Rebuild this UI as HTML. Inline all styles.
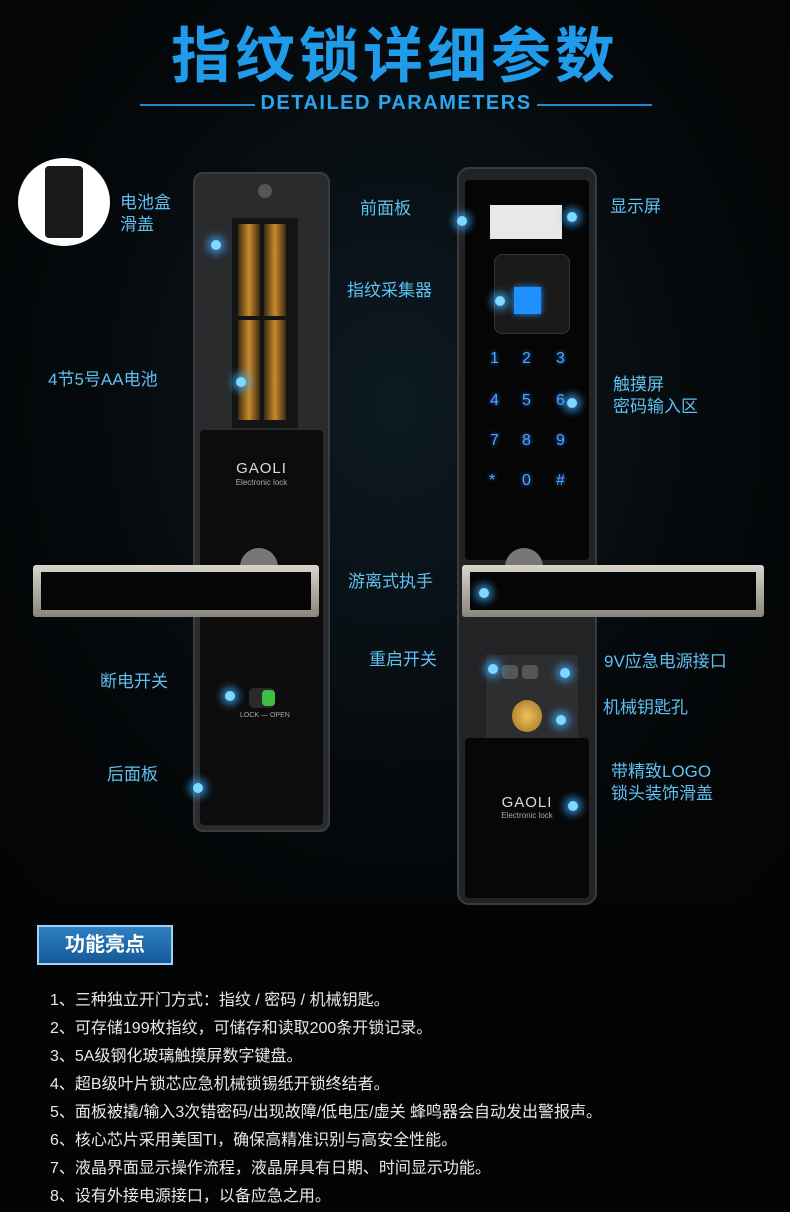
<!DOCTYPE html>
<html><head><meta charset="utf-8"><style>
*{margin:0;padding:0;box-sizing:border-box}
body{width:790px;height:1212px;background:#030405;position:relative;overflow:hidden;font-family:"Liberation Sans","Noto Sans CJK SC",sans-serif}
.a{position:absolute}
.lbl{position:absolute;color:#5fc0f0;font-size:17px;line-height:22px;white-space:nowrap}
.dot{position:absolute;width:10px;height:10px;border-radius:50%;background:#7fd8ff;box-shadow:0 0 8px 4px rgba(60,170,255,.7)}
.li{position:absolute;left:50px;color:#e8e8e8;font-size:16px;white-space:nowrap}
.key{position:absolute;color:#4aa8ff;font-size:16px;text-shadow:0 0 5px #2a7fff}
</style></head><body>
<div class="a" style="left:0;top:0;width:790px;height:900px;background:radial-gradient(ellipse at 50% 45%,#0d1a22 0%,#05080a 60%,#030405 100%)"></div>
<div class="a" style="left:0;top:22px;width:790px;text-align:center;color:#1f9bea;font-size:60px;font-weight:bold;letter-spacing:4px;line-height:70px">指纹锁详细参数</div>
<div class="a" style="left:140px;top:104px;width:115px;height:2px;background:#1f8ad0"></div>
<div class="a" style="left:537px;top:104px;width:115px;height:2px;background:#1f8ad0"></div>
<div class="a" style="left:250px;top:92px;width:292px;text-align:center;color:#2aa6ee;font-size:20px;font-weight:bold;letter-spacing:1.5px">DETAILED PARAMETERS</div>

<div class="a" style="left:18px;top:158px;width:92px;height:88px;border-radius:50%;background:#fff"></div>
<div class="a" style="left:45px;top:166px;width:38px;height:72px;border-radius:4px;background:#1a1a1a"></div>

<div class="a" style="left:193px;top:172px;width:137px;height:660px;background:#2a2b2d;border-radius:10px;border:2px solid #3a3b3e"></div>
<div class="a" style="left:232px;top:218px;width:66px;height:210px;background:#151515"></div>
<div class="a" style="left:238px;top:224px;width:22px;height:92px;background:linear-gradient(90deg,#3a2a10,#c88a30,#3a2a10)"></div>
<div class="a" style="left:264px;top:224px;width:22px;height:92px;background:linear-gradient(90deg,#3a2a10,#c88a30,#3a2a10)"></div>
<div class="a" style="left:238px;top:320px;width:22px;height:100px;background:linear-gradient(90deg,#3a2a10,#c88a30,#3a2a10)"></div>
<div class="a" style="left:264px;top:320px;width:22px;height:100px;background:linear-gradient(90deg,#3a2a10,#c88a30,#3a2a10)"></div>
<div class="a" style="left:258px;top:184px;width:14px;height:14px;border-radius:50%;background:#555"></div>
<div class="a" style="left:200px;top:430px;width:123px;height:395px;background:#0c0c0d;border-radius:4px"></div>
<div class="a" style="left:200px;top:460px;width:123px;text-align:center;color:#ddd;font-size:15px;letter-spacing:1px">GAOLI</div>
<div class="a" style="left:200px;top:478px;width:123px;text-align:center;color:#aaa;font-size:8px">Electronic lock</div>
<div class="a" style="left:240px;top:548px;width:38px;height:38px;border-radius:50%;background:#777"></div>
<div class="a" style="left:33px;top:565px;width:286px;height:52px;background:linear-gradient(#d8d4cc,#8a867e);border-radius:3px"></div>
<div class="a" style="left:41px;top:572px;width:270px;height:38px;background:#050505"></div>
<div class="a" style="left:249px;top:688px;width:26px;height:20px;border-radius:5px;background:#2a2a2a"></div>
<div class="a" style="left:262px;top:690px;width:13px;height:16px;border-radius:4px;background:#3cc040"></div>
<div class="a" style="left:240px;top:712px;color:#aaa;font-size:7px">LOCK — OPEN</div>

<div class="a" style="left:457px;top:167px;width:140px;height:738px;background:#222325;border-radius:12px;border:2px solid #3a3b3e"></div>
<div class="a" style="left:465px;top:180px;width:124px;height:380px;background:#050506;border-radius:4px"></div>
<div class="a" style="left:490px;top:205px;width:72px;height:34px;background:#e8e8e8"></div>
<div class="a" style="left:494px;top:254px;width:76px;height:80px;border-radius:8px;background:#1a1a1a;border:1px solid #333"></div>
<div class="a" style="left:514px;top:287px;width:27px;height:27px;background:#2090ff;box-shadow:0 0 6px #2090ff"></div>
<div class="key" style="left:490px;top:350px">1</div><div class="key" style="left:522px;top:350px">2</div><div class="key" style="left:556px;top:350px">3</div>
<div class="key" style="left:490px;top:392px">4</div><div class="key" style="left:522px;top:392px">5</div><div class="key" style="left:556px;top:392px">6</div>
<div class="key" style="left:490px;top:432px">7</div><div class="key" style="left:522px;top:432px">8</div><div class="key" style="left:556px;top:432px">9</div>
<div class="key" style="left:489px;top:472px">*</div><div class="key" style="left:522px;top:472px">0</div><div class="key" style="left:556px;top:472px">#</div>
<div class="a" style="left:505px;top:548px;width:38px;height:38px;border-radius:50%;background:#777"></div>
<div class="a" style="left:462px;top:565px;width:302px;height:52px;background:linear-gradient(#d8d4cc,#8a867e);border-radius:3px"></div>
<div class="a" style="left:470px;top:572px;width:286px;height:38px;background:#050505"></div>
<div class="a" style="left:486px;top:655px;width:92px;height:85px;background:#2e2e30"></div>
<div class="a" style="left:502px;top:665px;width:16px;height:14px;border-radius:4px;background:#555"></div>
<div class="a" style="left:522px;top:665px;width:16px;height:14px;border-radius:4px;background:#555"></div>
<div class="a" style="left:512px;top:700px;width:30px;height:32px;border-radius:50%;background:radial-gradient(#f0c060,#a07020)"></div>
<div class="a" style="left:465px;top:738px;width:124px;height:160px;background:#070708;border-radius:4px"></div>
<div class="a" style="left:465px;top:794px;width:124px;text-align:center;color:#ddd;font-size:15px;letter-spacing:1px">GAOLI</div>
<div class="a" style="left:465px;top:811px;width:124px;text-align:center;color:#aaa;font-size:8px">Electronic lock</div>

<div class="lbl" style="left:120px;top:192px">电池盒<br>滑盖</div>
<div class="dot" style="left:211px;top:240px"></div>
<div class="lbl" style="left:48px;top:369px">4节5号AA电池</div>
<div class="dot" style="left:236px;top:377px"></div>
<div class="lbl" style="left:100px;top:671px">断电开关</div>
<div class="dot" style="left:225px;top:691px"></div>
<div class="lbl" style="left:107px;top:764px">后面板</div>
<div class="dot" style="left:193px;top:783px"></div>
<div class="lbl" style="left:360px;top:198px">前面板</div>
<div class="dot" style="left:457px;top:216px"></div>
<div class="lbl" style="left:347px;top:280px">指纹采集器</div>
<div class="dot" style="left:495px;top:296px"></div>
<div class="lbl" style="left:348px;top:571px">游离式执手</div>
<div class="dot" style="left:479px;top:588px"></div>
<div class="lbl" style="left:369px;top:649px">重启开关</div>
<div class="dot" style="left:488px;top:664px"></div>
<div class="lbl" style="left:610px;top:196px">显示屏</div>
<div class="dot" style="left:567px;top:212px"></div>
<div class="lbl" style="left:613px;top:374px">触摸屏<br>密码输入区</div>
<div class="dot" style="left:567px;top:398px"></div>
<div class="lbl" style="left:604px;top:651px">9V应急电源接口</div>
<div class="dot" style="left:560px;top:668px"></div>
<div class="lbl" style="left:603px;top:697px">机械钥匙孔</div>
<div class="dot" style="left:556px;top:715px"></div>
<div class="lbl" style="left:611px;top:761px">带精致LOGO<br>锁头装饰滑盖</div>
<div class="dot" style="left:568px;top:801px"></div>

<div class="a" style="left:37px;top:925px;width:136px;height:40px;background:linear-gradient(#2f7fc0,#155a98);border:2px solid #9fd0f0;color:#fff;font-size:20px;font-weight:bold;text-align:center;line-height:36px">功能亮点</div>
<div class="li" style="top:986px">1、三种独立开门方式：指纹 / 密码 / 机械钥匙。</div>
<div class="li" style="top:1014px">2、可存储199枚指纹，可储存和读取200条开锁记录。</div>
<div class="li" style="top:1042px">3、5A级钢化玻璃触摸屏数字键盘。</div>
<div class="li" style="top:1070px">4、超B级叶片锁芯应急机械锁锡纸开锁终结者。</div>
<div class="li" style="top:1098px">5、面板被撬/输入3次错密码/出现故障/低电压/虚关 蜂鸣器会自动发出警报声。</div>
<div class="li" style="top:1126px">6、核心芯片采用美国TI，确保高精准识别与高安全性能。</div>
<div class="li" style="top:1154px">7、液晶界面显示操作流程，液晶屏具有日期、时间显示功能。</div>
<div class="li" style="top:1182px">8、设有外接电源接口，以备应急之用。</div>
</body></html>
